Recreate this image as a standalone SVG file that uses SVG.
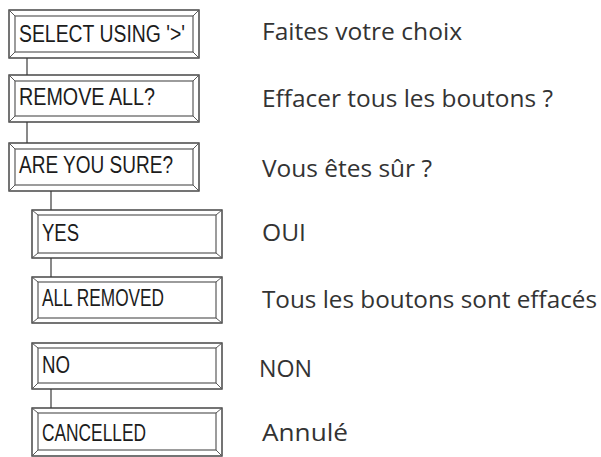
<svg xmlns="http://www.w3.org/2000/svg" width="601" height="457" viewBox="0 0 601 457">
<defs>
<style>
.outer{fill:#fff;stroke:#3a3a3a;stroke-width:1.4}
.inner{fill:#fff;stroke:#5a5a5a;stroke-width:1.2}
.bev{stroke:#5a5a5a;stroke-width:1}
.lbl{font-family:"Liberation Sans",Arial,sans-serif;font-size:23px;fill:#1c1c1c}
.tr{font-family:"Open Sans","Noto Sans",sans-serif;font-size:23px;fill:#333}
.conn{stroke:#4a4a4a;stroke-width:1.3;fill:none}
</style>
</defs>
<rect width="601" height="457" fill="#fff"/>
<g id="connectors">
<line class="conn" x1="27" y1="58" x2="27" y2="75"/>
<line class="conn" x1="27" y1="122" x2="27" y2="143"/>
<line class="conn" x1="51" y1="191" x2="51" y2="210"/>
<line class="conn" x1="51" y1="258" x2="51" y2="277"/>
<line class="conn" x1="51" y1="389" x2="51" y2="408"/>
</g>
<g id="select">
<rect class="outer" x="9" y="10" width="190" height="48"/>
<rect class="inner" x="15" y="16" width="178" height="36"/>
<path class="bev" d="M9 10L15 16M199 10L193 16M9 58L15 52M199 58L193 52"/>
<text class="lbl" x="19" y="42" textLength="166" lengthAdjust="spacingAndGlyphs">SELECT USING '&gt;'</text>
</g>
<g id="remove">
<rect class="outer" x="9" y="75" width="190" height="47"/>
<rect class="inner" x="15" y="81" width="178" height="35"/>
<path class="bev" d="M9 75L15 81M199 75L193 81M9 122L15 116M199 122L193 116"/>
<text class="lbl" x="19" y="105" textLength="136" lengthAdjust="spacingAndGlyphs">REMOVE ALL?</text>
</g>
<g id="sure">
<rect class="outer" x="9" y="143" width="190" height="48"/>
<rect class="inner" x="15" y="149" width="178" height="36"/>
<path class="bev" d="M9 143L15 149M199 143L193 149M9 191L15 185M199 191L193 185"/>
<text class="lbl" x="19" y="173" textLength="154" lengthAdjust="spacingAndGlyphs">ARE YOU SURE?</text>
</g>
<g id="yes">
<rect class="outer" x="32" y="210" width="190" height="48"/>
<rect class="inner" x="38" y="215" width="178" height="38"/>
<path class="bev" d="M32 210L38 215M222 210L216 215M32 258L38 253M222 258L216 253"/>
<text class="lbl" x="42" y="241" textLength="37" lengthAdjust="spacingAndGlyphs">YES</text>
</g>
<g id="allremoved">
<rect class="outer" x="32" y="277" width="190" height="46"/>
<rect class="inner" x="38" y="282" width="178" height="36"/>
<path class="bev" d="M32 277L38 282M222 277L216 282M32 323L38 318M222 323L216 318"/>
<text class="lbl" x="42" y="306" textLength="122" lengthAdjust="spacingAndGlyphs">ALL REMOVED</text>
</g>
<g id="no">
<rect class="outer" x="32" y="343" width="190" height="46"/>
<rect class="inner" x="38" y="348" width="178" height="35"/>
<path class="bev" d="M32 343L38 348M222 343L216 348M32 389L38 383M222 389L216 383"/>
<text class="lbl" x="42" y="373" textLength="28" lengthAdjust="spacingAndGlyphs">NO</text>
</g>
<g id="cancelled">
<rect class="outer" x="32" y="408" width="190" height="48"/>
<rect class="inner" x="38" y="413" width="178" height="37"/>
<path class="bev" d="M32 408L38 413M222 408L216 413M32 456L38 450M222 456L216 450"/>
<text class="lbl" x="42" y="441" textLength="104" lengthAdjust="spacingAndGlyphs">CANCELLED</text>
</g>
<g id="translations">
<text class="tr" x="262" y="40" textLength="200" lengthAdjust="spacingAndGlyphs">Faites votre choix</text>
<text class="tr" x="262" y="107" textLength="291" lengthAdjust="spacingAndGlyphs">Effacer tous les boutons ?</text>
<text class="tr" x="262" y="177" textLength="170" lengthAdjust="spacingAndGlyphs">Vous êtes sûr ?</text>
<text class="tr" x="262" y="241" textLength="44" lengthAdjust="spacingAndGlyphs">OUI</text>
<text class="tr" x="262" y="308" textLength="335" lengthAdjust="spacingAndGlyphs">Tous les boutons sont effacés</text>
<text class="tr" x="259" y="377" textLength="53" lengthAdjust="spacingAndGlyphs">NON</text>
<text class="tr" x="262" y="441" textLength="86" lengthAdjust="spacingAndGlyphs">Annulé</text>
</g>
</svg>
